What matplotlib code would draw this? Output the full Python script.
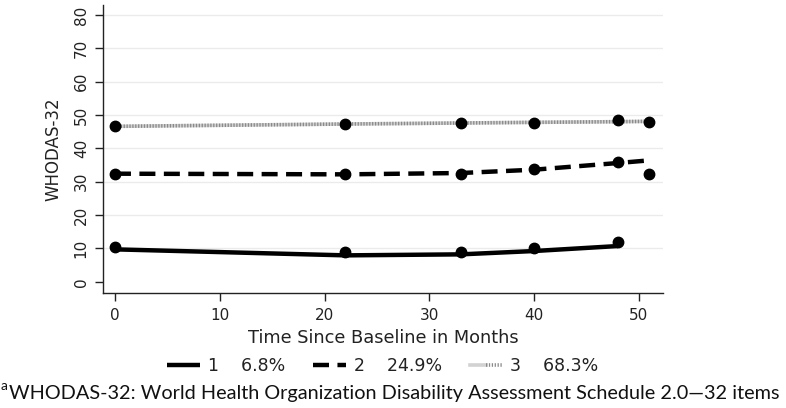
import matplotlib
matplotlib.use("Agg")
import matplotlib.pyplot as plt
from matplotlib.legend_handler import HandlerTuple

# ---- data ----
g1_x = [0, 22, 33, 40, 48]
g1_obs = [10.3, 8.8, 9.0, 10.0, 11.8]
g1_fit = [9.7, 7.9, 8.2, 9.2, 10.7]

g2_x = [0, 22, 33, 40, 48, 51]
g2_obs = [32.4, 32.3, 32.4, 33.7, 35.8, 32.2]
g2_fit = [32.4, 32.2, 32.6, 33.6, 35.6, 36.4]

g3_x = [0, 22, 33, 40, 48, 51]
g3_obs = [46.6, 47.3, 47.6, 47.5, 48.4, 47.8]
g3_fit = [46.6, 47.3, 47.6, 47.8, 48.0, 48.1]

group_labels = ["1", "2", "3"]
group_pcts = ["6.8%", "24.9%", "68.3%"]

x_ticks = [0, 10, 20, 30, 40, 50]
y_ticks = [0, 10, 20, 30, 40, 50, 60, 70, 80]

footnote = "WHODAS-32: World Health Organization Disability Assessment Schedule 2.0\u201432 items"

W, H = 786, 408
fig = plt.figure(figsize=(W / 100, H / 100), dpi=100)
plt.rcParams['font.family'] = ['DejaVu Sans']

left, right, top, bottom = 102.7, 663, 5, 292.7
ax = fig.add_axes([left / W, 1 - bottom / H, (right - left) / W, (bottom - top) / H])

ax.set_xlim(-1.17, 52.3)
ax.set_ylim(-3.3, 83)

for gy in y_ticks[1:]:
    ax.axhline(gy, color='#ebebeb', lw=1.0, zorder=0)

# group 1
l1, = ax.plot(g1_x, g1_fit, color='black', lw=3.2, solid_capstyle='butt', zorder=3)
ax.plot(g1_x, g1_obs, 'o', color='black', ms=7.5, zorder=4)
# group 2
l2, = ax.plot(g2_x, g2_fit, color='black', lw=3.2, dashes=(3.6, 1.9), zorder=3)
ax.plot(g2_x, g2_obs, 'o', color='black', ms=7.5, zorder=4)
# group 3
l3a, = ax.plot(g3_x, g3_fit, color='#d2d2d2', lw=2.6, zorder=2)
l3b, = ax.plot(g3_x, g3_fit, color='#8a8a8a', lw=2.6, dashes=(0.35, 0.45), zorder=2)
ax.plot(g3_x, g3_obs, 'o', color='black', ms=7.5, zorder=4)

ax.spines['top'].set_visible(False)
ax.spines['right'].set_visible(False)
for s in ['left', 'bottom']:
    ax.spines[s].set_linewidth(1.0)
    ax.spines[s].set_color('#222222')

ax.set_xticks(x_ticks)
ax.set_yticks(y_ticks)
ax.set_yticklabels([str(v) for v in y_ticks], rotation=90, va='center')
ax.tick_params(axis='both', length=6, width=1.0, color='#222222', labelsize=11, labelcolor='#222222')
ax.tick_params(axis='x', pad=5)
ax.tick_params(axis='y', pad=4)

ax.set_xlabel("Time Since Baseline in Months", fontsize=12.8, color='#222222', labelpad=4)
ax.set_ylabel("WHODAS-32", fontsize=12, color='#222222', labelpad=8)

labels = [f"{g}    {p}" for g, p in zip(group_labels, group_pcts)]
leg = fig.legend([l1, l2, (l3a, l3b)], labels,
                 handler_map={tuple: HandlerTuple(ndivide=None, pad=0)},
                 loc='center', bbox_to_anchor=(0.487, 1 - 366 / H), ncol=3, frameon=False,
                 fontsize=12.5, handlelength=1.9, handletextpad=0.45, columnspacing=1.6,
                 borderpad=0, labelcolor='#222222')

fig.text(1 / W, 1 - 386 / H, "a", fontsize=10, family=['Lato', 'DejaVu Sans'], ha='left', va='center', color='#111111')
ft = fig.text(9 / W, 1 - 393 / H, footnote,
              fontsize=15, family=['Lato', 'DejaVu Sans'], ha='left', va='center', color='#111111')
# fit footnote width to ~774 px
r = fig.canvas.get_renderer()
wpx = ft.get_window_extent(renderer=r).width
ft.set_fontsize(15 * 774 / wpx)

fig.savefig("out.png", dpi=100)
